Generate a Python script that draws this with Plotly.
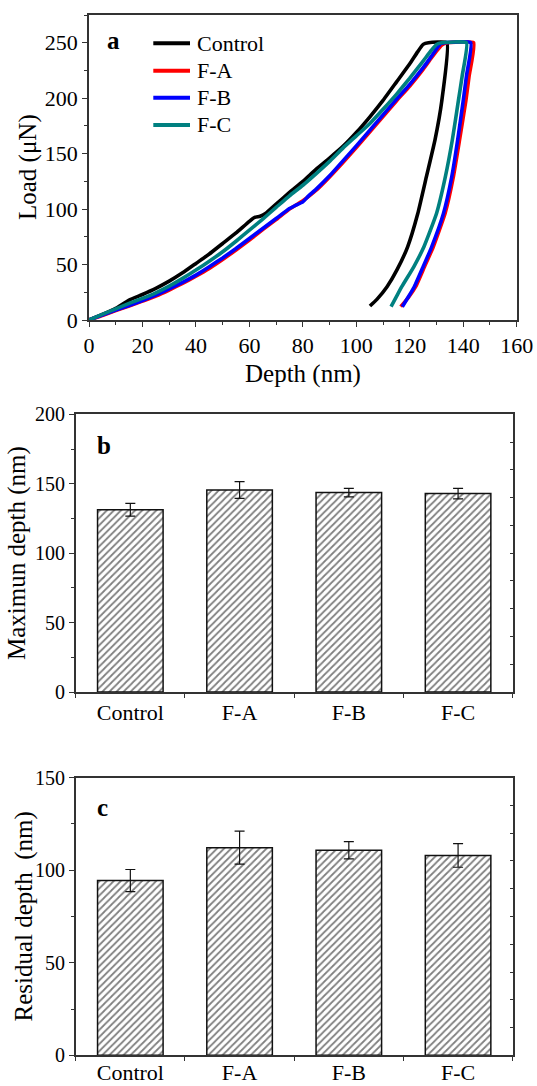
import plotly.graph_objects as go

# ---------------- data ----------------
samples = ["Control", "F-A", "F-B", "F-C"]
colors = ["#000000", "#FF0000", "#0000FF", "#008080"]

ctrl_depth = [0, 5, 10, 15, 20, 25, 30, 35, 40, 45, 50, 55, 60, 62, 64, 66, 70, 75, 80, 85, 90, 95, 100,
              105, 110, 115, 120, 123, 125, 127, 133.9,
              132, 129.4, 126.2, 123, 119.2, 115.3, 111.5, 107.7, 105.1]
ctrl_load = [0, 5, 10.5, 18, 23, 28.5, 35, 42.5, 51, 59.5, 69, 78.5, 89, 92.5, 93.5, 96, 104.5, 115, 125, 136, 146,
             156.5, 169, 183, 198, 214.5, 231, 242, 248.5, 250, 250,
             198, 162, 129, 96, 66, 45.6, 30, 18.6, 12.6]

fa_depth = [0, 5, 10, 15, 20, 25, 30, 35, 40, 45, 50, 55, 60, 65, 70, 75, 80, 85, 90, 95, 100, 105, 110, 115,
            120, 125, 128, 130, 132, 134, 143.9,
            142.2, 141, 138.6, 136.3, 133.2, 128.8, 125.5, 122.2, 119.7, 116.6]
fa_load = [0, 4, 8.5, 12.5, 17, 21.5, 27, 33, 39.5, 46.5, 54.5, 63, 72, 81.5, 90.5, 100, 107.5, 117, 129, 142,
           155.5, 169.5, 183.5, 197.5, 211, 226, 236, 242.5, 248, 250, 250,
           220, 198, 162, 129, 96, 66, 48, 30, 21, 12]

fb_depth = [0, 5, 10, 15, 20, 25, 30, 35, 40, 45, 50, 55, 60, 65, 70, 75, 77, 80, 82, 85, 90, 95, 100, 105,
            110, 115, 120, 125, 128, 130, 131.5, 133, 142.8,
            141.2, 140, 137.9, 135.7, 132.6, 128.2, 125, 121.7, 119.5, 117.2]
fb_load = [0, 4.5, 9, 13, 17.5, 22.5, 28, 34, 40.5, 48, 56, 64.5, 73.5, 82.5, 91.5, 100.5, 103, 106.5, 111.5,
           118, 130, 143.5, 157, 171, 185, 199, 212.5, 227.5, 237.5, 244.5, 249, 250, 250,
           220, 198, 162, 129, 96, 66, 48, 30, 21, 12]

fc_depth = [0, 5, 10, 15, 20, 25, 30, 35, 40, 45, 50, 55, 60, 65, 70, 75, 80, 85, 90, 95, 100, 105, 110, 115,
            120, 125, 128, 130, 132, 141.2,
            139.6, 138.2, 135.9, 133.3, 130, 125.3, 121.5, 117, 115, 113]
fc_load = [0, 5, 10, 15, 19.5, 24.5, 30.5, 37.5, 45, 53, 61.5, 71, 81, 91, 101.5, 112, 121.5, 132, 143, 155,
           166, 177, 190, 203.5, 218, 233.5, 243, 248.5, 250, 250,
           220, 198, 162, 129, 96, 66, 48, 30, 21, 12]

max_depth = [131.3, 145.5, 143.6, 142.9]
max_depth_err = [4.6, 6.0, 3.1, 3.8]
res_depth = [94.4, 112.2, 110.8, 108.0]
res_depth_err = [6.0, 8.9, 4.7, 6.4]

curve_depths = [ctrl_depth, fa_depth, fb_depth, fc_depth]
curve_loads = [ctrl_load, fa_load, fb_load, fc_load]

# ---------------- figure ----------------
W, H = 537, 1086
FONT = "Liberation Serif, Times New Roman, serif"
AX = "#333333"


def px(x):
    return x / W


def py(y):
    return 1 - y / H


def f(size):
    return dict(family=FONT, size=size, color="black")


fig = go.Figure()

for name, col, dx, ly in zip(samples, colors, curve_depths, curve_loads):
    fig.add_trace(go.Scatter(x=dx, y=ly, mode="lines", name=name, showlegend=False,
                             line=dict(color=col, width=3.6, shape="spline", smoothing=0.4),
                             xaxis="x", yaxis="y"))

bar_common = dict(marker=dict(color="white", line=dict(color="#111111", width=1.5),
                              pattern=dict(shape="/", fgcolor="#000000", bgcolor="white",
                                           size=5, solidity=0.35)),
                  width=0.6, showlegend=False)

fig.add_trace(go.Bar(x=samples, y=max_depth, xaxis="x2", yaxis="y2",
                     error_y=dict(type="data", array=max_depth_err, color="#111111",
                                  thickness=1.2, width=5), **bar_common))
fig.add_trace(go.Bar(x=samples, y=res_depth, xaxis="x3", yaxis="y3",
                     error_y=dict(type="data", array=res_depth_err, color="#111111",
                                  thickness=1.2, width=5), **bar_common))

# invisible traces so the right-hand tick axes of panels b and c are drawn
fig.add_trace(go.Scatter(x=samples, y=max_depth, xaxis="x2", yaxis="y4", mode="none",
                         hoverinfo="skip", showlegend=False))
fig.add_trace(go.Scatter(x=samples, y=res_depth, xaxis="x3", yaxis="y5", mode="none",
                         hoverinfo="skip", showlegend=False))

axis_common = dict(showline=True, linecolor=AX, linewidth=1.5, mirror=True,
                   showgrid=False, zeroline=False, ticks="outside", tickcolor=AX,
                   tickwidth=1.2, automargin=False)

xa_dom = [px(89), px(516.7)]
xb_dom = [px(75.7), px(512.7)]

fig.update_layout(
    width=W, height=H, margin=dict(l=0, r=0, t=0, b=0),
    paper_bgcolor="white", plot_bgcolor="white",
    font=f(22),
    barmode="group",
    showlegend=False,
    xaxis=dict(domain=xa_dom, anchor="y", range=[0, 160], dtick=20, ticklen=5,
               tickfont=f(22),
               minor=dict(dtick=10, ticks="outside", ticklen=3, tickcolor=AX),
               **axis_common),
    yaxis=dict(domain=[py(320), py(15)], anchor="x", range=[0, 275], tickvals=[0, 50, 100, 150, 200, 250],
               ticklen=5, tickfont=f(22),
               minor=dict(tickvals=[25, 75, 125, 175, 225, 275], ticks="outside", ticklen=3, tickcolor=AX),
               **axis_common),
    xaxis2=dict(domain=xb_dom, anchor="y2", type="category", range=[-0.5, 3.5],
                tickson="boundaries", ticklen=4, tickfont=f(22), **axis_common),
    yaxis2=dict(domain=[py(692), py(414.3)], anchor="x2", range=[0, 200], dtick=50, ticklen=5,
                tickfont=f(20),
                minor=dict(dtick=25, ticks="outside", ticklen=3, tickcolor=AX),
                **axis_common),
    xaxis3=dict(domain=xb_dom, anchor="y3", type="category", range=[-0.5, 3.5],
                tickson="boundaries", ticklen=4, tickfont=f(22), ticklabelstandoff=-3,
                **axis_common),
    yaxis3=dict(domain=[py(1055.3), py(777.7)], anchor="x3", range=[0, 150], dtick=50, ticklen=5,
                tickfont=f(20),
                minor=dict(dtick=25, ticks="outside", ticklen=3, tickcolor=AX),
                **axis_common),
    yaxis4=dict(overlaying="y2", side="right", anchor="x2", range=[0, 200], dtick=20,
                showticklabels=False, ticks="inside", ticklen=3, tickcolor=AX, showgrid=False,
                zeroline=False, showline=False, automargin=False),
    yaxis5=dict(overlaying="y3", side="right", anchor="x3", range=[0, 150], dtick=15,
                showticklabels=False, ticks="inside", ticklen=3, tickcolor=AX, showgrid=False,
                zeroline=False, showline=False, automargin=False),
)

# manual legend for panel a (line samples + labels)
legend_rows = [43.3, 70.7, 97.7, 125.0]
shapes = []
annotations = []
for name, col, ry in zip(samples, colors, legend_rows):
    shapes.append(dict(type="line", xref="paper", yref="paper",
                       x0=px(153.3), x1=px(190), y0=py(ry), y1=py(ry),
                       line=dict(color=col, width=4)))
    annotations.append(dict(text=name, x=px(195), y=py(ry), xanchor="left", yanchor="middle",
                            font=f(22)))

annotations += [
    dict(text="<b>a</b>", x=px(113), y=py(40), font=f(25)),
    dict(text="<b>b</b>", x=px(103.7), y=py(446), font=f(25)),
    dict(text="<b>c</b>", x=px(102.3), y=py(807), font=f(25)),
    dict(text="Depth (nm)", x=px(303), y=py(374), font=f(25)),
    dict(text="Load (\u03bcN)", x=px(27.5), y=py(167.5), textangle=-90, font=f(25)),
    dict(text="Maximun depth (nm)", x=px(17), y=py(553), textangle=-90, font=f(25)),
    dict(text="Residual depth&nbsp; (nm)", x=px(23), y=py(916.5), textangle=-90, font=f(25)),
]
for a in annotations:
    a.setdefault("xanchor", "center")
    a.setdefault("yanchor", "middle")
    a.update(xref="paper", yref="paper", showarrow=False)

fig.update_layout(annotations=annotations, shapes=shapes)

fig.write_html("out.html")
